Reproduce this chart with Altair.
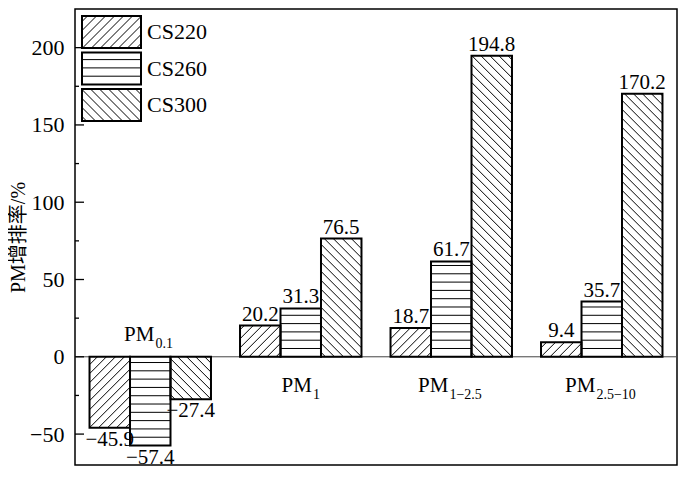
import altair as alt
import pandas as pd

# ---------------- data ----------------
categories = ["PM0.1", "PM1", "PM1-2.5", "PM2.5-10"]
cat_main = ["PM", "PM", "PM", "PM"]
cat_sub = ["0.1", "1", "1\u22122.5", "2.5\u221210"]
series = ["CS220", "CS260", "CS300"]
cs220 = [-45.9, 20.2, 18.7, 9.4]
cs260 = [-57.4, 31.3, 61.7, 35.7]
cs300 = [-27.4, 76.5, 194.8, 170.2]
y_labels = [-50, 0, 50, 100, 150, 200]
y_minor = [-25, 25, 75, 125, 175]
y_title = "PM增排率/%"

patterns = ["fwd", "horiz", "back"]

# ---------------- layout / style ----------------
W, H = 602, 456
Y_DOM = [-70, 225]
X_DOM = [0, len(categories)]
SX = W / (X_DOM[1] - X_DOM[0])
SY = H / (Y_DOM[1] - Y_DOM[0])
BW = 0.807 / 3
FONT = "Liberation Serif"
CJK = "Liberation Serif, Noto Sans CJK SC"
SP_D = 9.0
SP_H = 8.3

rows = []
for i, c in enumerate(categories):
    for j, (s, vals) in enumerate(zip(series, [cs220, cs260, cs300])):
        rows.append({"cat": c, "i": i, "series": s, "j": j, "v": vals[i], "pat": patterns[j]})
bars = pd.DataFrame(rows)

leg = pd.DataFrame({"series": series, "j": list(range(len(series))), "pat": patterns})

cats = pd.DataFrame({
    "i": list(range(len(categories))),
    "main": cat_main,
    "sub": cat_sub,
    "neg": [all(v[k] < 0 for v in (cs220, cs260, cs300)) for k in range(len(categories))],
})

xs = alt.Scale(domain=X_DOM, nice=False, zero=False)
ys = alt.Scale(domain=Y_DOM, nice=False, zero=False)
yaxis = alt.Axis(values=y_labels, ticks=False, domain=False, grid=False,
                 labelFont=FONT, labelFontSize=22, labelColor="black", labelPadding=11,
                 title=y_title, titleFont=CJK, titleFontSize=20, titleFontWeight="normal",
                 titleColor="black", titlePadding=1)


def hatch(ch):
    return ch.transform_calculate(
        ds=(f"datum.pat == 'fwd' ? sequence(-datum.Wp + {SP_D/2}, datum.Hp, {SP_D}) : "
            f"datum.pat == 'back' ? sequence({SP_D/2}, datum.Wp + datum.Hp, {SP_D}) : "
            f"sequence({SP_H}, datum.Hp - 1, {SP_H})")
    ).transform_flatten(["ds"], as_=["d"]).transform_calculate(
        ua="datum.pat == 'fwd' ? max(0, -datum.d) : datum.pat == 'back' ? max(0, datum.d - datum.Hp) : 0",
        ub="datum.pat == 'fwd' ? min(datum.Wp, datum.Hp - datum.d) : datum.pat == 'back' ? min(datum.Wp, datum.d) : datum.Wp",
        wa="datum.pat == 'fwd' ? datum.ua + datum.d : datum.pat == 'back' ? datum.d - datum.ua : datum.d",
        wb="datum.pat == 'fwd' ? datum.ub + datum.d : datum.pat == 'back' ? datum.d - datum.ub : datum.d",
        hx="datum.x0 + datum.ua / datum.sxu",
        hx2="datum.x0 + datum.ub / datum.sxu",
        hy="datum.yb + datum.wa / datum.syu",
        hy2="datum.yb + datum.wb / datum.syu",
    ).transform_filter("datum.ub - datum.ua > 0.5")


bar_base = alt.Chart(bars).transform_calculate(
    x0=f"datum.i + 0.5 + (datum.j - 1.5) * {BW}",
    x1=f"datum.x0 + {BW}",
    bx=f"datum.x0 + {BW / 2}",
    Wp=f"{BW * SX}",
    yb="min(0, datum.v)",
    Hp=f"abs(datum.v) * {SY}",
    sxu=f"{SX}",
    syu=f"{SY}",
)

bar_enc = dict(x=alt.X("x0:Q", scale=xs, axis=None), x2="x1:Q",
               y=alt.Y("v:Q", scale=ys, axis=yaxis), y2=alt.datum(0))

bars_fill = bar_base.mark_rect(fill="white", strokeWidth=0).encode(**bar_enc)
bars_hatch = hatch(bar_base).mark_rule(color="black", strokeWidth=1).encode(
    x=alt.X("hx:Q", scale=xs, axis=None), x2="hx2:Q",
    y=alt.Y("hy:Q", scale=ys, axis=yaxis), y2="hy2:Q")
bars_outline = bar_base.mark_rect(fill="white", fillOpacity=0, stroke="black",
                                  strokeWidth=2).encode(**bar_enc)

zero_line = alt.Chart(pd.DataFrame({"z": [0]})).mark_rule(color="#444", strokeWidth=1).encode(
    y=alt.Y("z:Q", scale=ys, axis=yaxis), x=alt.value(0), x2=alt.value(W))

ticks_major = alt.Chart(pd.DataFrame({"t": y_labels})).mark_rule(color="black", strokeWidth=1.3).encode(
    y=alt.Y("t:Q", scale=ys, axis=yaxis), x=alt.value(0), x2=alt.value(9))
ticks_minor = alt.Chart(pd.DataFrame({"t": y_minor})).mark_rule(color="black", strokeWidth=1.3).encode(
    y=alt.Y("t:Q", scale=ys, axis=yaxis), x=alt.value(0), x2=alt.value(4))

vl_pos = bar_base.transform_filter("datum.v >= 0").mark_text(
    font=FONT, fontSize=21, color="black", baseline="alphabetic", dy=-5).encode(
    x=alt.X("bx:Q", scale=xs, axis=None), y=alt.Y("v:Q", scale=ys, axis=yaxis),
    text=alt.Text("v:Q", format=".1f"))
vl_neg = bar_base.transform_filter("datum.v < 0").mark_text(
    font=FONT, fontSize=21, color="black", baseline="top", dy=1).encode(
    x=alt.X("bx:Q", scale=xs, axis=None), y=alt.Y("v:Q", scale=ys, axis=yaxis),
    text=alt.Text("v:Q", format=".1f"))

PMW = 1.445 * 21
cat_base = alt.Chart(cats).transform_calculate(
    subw="length(datum.sub) * 7",
    tot=f"{PMW} + 1 + datum.subw",
    xr=f"datum.i + 0.5 + ({PMW} - datum.tot / 2) / {SX}",
    xsb=f"datum.xr + {1 / SX}",
    z="0",
)


def cat_layers(flt, dy_main):
    b = cat_base.transform_filter(flt)
    m = b.mark_text(font=FONT, fontSize=21, color="black", align="right",
                    baseline="alphabetic", dy=dy_main).encode(
        x=alt.X("xr:Q", scale=xs, axis=None), y=alt.Y("z:Q", scale=ys, axis=yaxis), text="main:N")
    s = b.mark_text(font=FONT, fontSize=14, color="black", align="left",
                    baseline="alphabetic", dy=dy_main + 7).encode(
        x=alt.X("xsb:Q", scale=xs, axis=None), y=alt.Y("z:Q", scale=ys, axis=yaxis), text="sub:N")
    return [m, s]


cat_neg = cat_layers("datum.neg", -16)
cat_pos = cat_layers("!datum.neg", 35)

# legend drawn as marks (pixel positions inside the plot area)
leg_base = alt.Chart(leg).transform_calculate(
    x0="7", lx1="66", ly0="7 + datum.j * 36.5", yb="datum.ly0 + 32",
    Wp="59", Hp="32", sxu="1", syu="-1",
    tx="72", ty="datum.ly0 + 16",
)
leg_enc = dict(x=alt.X("x0:Q", scale=None), x2="lx1:Q",
               y=alt.Y("ly0:Q", scale=None), y2="yb:Q")
leg_fill = leg_base.mark_rect(fill="white", strokeWidth=0).encode(**leg_enc)
leg_hatch = hatch(leg_base).mark_rule(color="black", strokeWidth=1).encode(
    x=alt.X("hx:Q", scale=None), x2="hx2:Q", y=alt.Y("hy:Q", scale=None), y2="hy2:Q")
leg_outline = leg_base.mark_rect(fill="white", fillOpacity=0, stroke="black",
                                 strokeWidth=2).encode(**leg_enc)
leg_text = leg_base.mark_text(font=FONT, fontSize=22, color="black", align="left",
                              baseline="middle").encode(
    x=alt.X("tx:Q", scale=None), y=alt.Y("ty:Q", scale=None), text="series:N")

chart = alt.layer(
    zero_line, bars_fill, bars_hatch, bars_outline, ticks_major, ticks_minor,
    vl_pos, vl_neg, *cat_neg, *cat_pos,
    leg_fill, leg_hatch, leg_outline, leg_text,
).properties(
    width=W, height=H,
    padding={"left": 67, "top": 1, "right": 2, "bottom": 5},
    autosize=alt.AutoSizeParams(type="none"),
    background="white",
).configure_view(stroke="black", strokeWidth=1.5)

chart.save("out.html", embed_options={"renderer": "svg", "actions": False})
